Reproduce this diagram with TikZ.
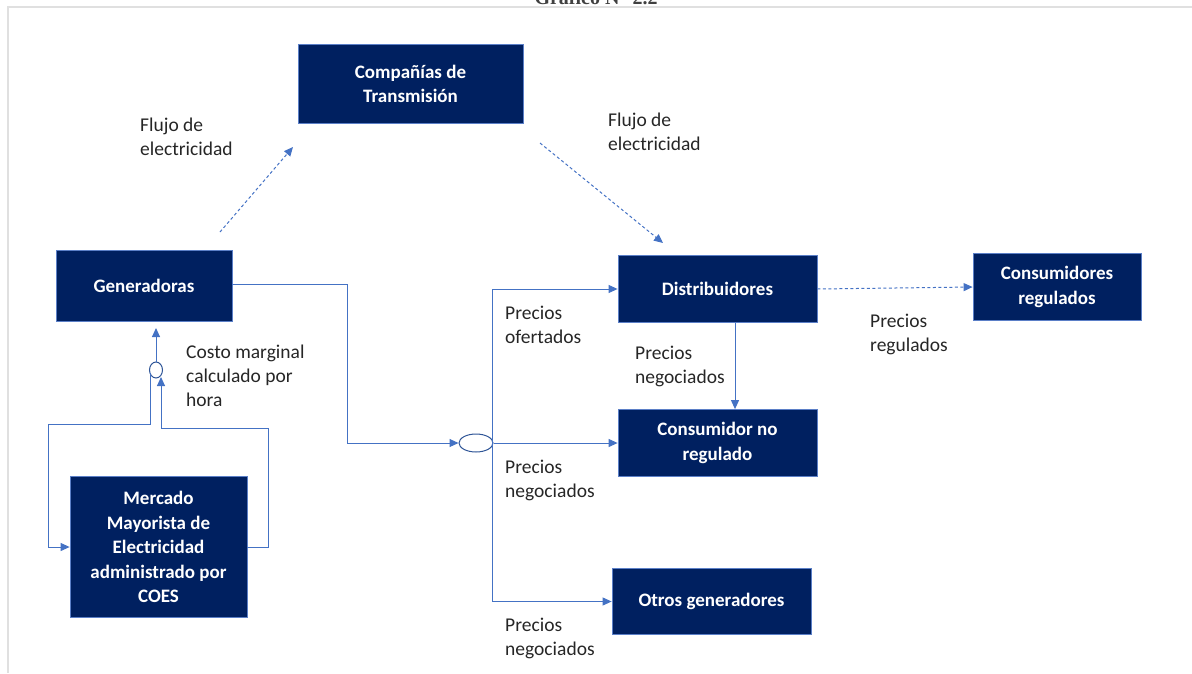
\documentclass[tikz,border=0pt]{standalone}
\usepackage{fontspec}
\setmainfont{Carlito}
\newfontfamily\titlefont{Liberation Serif}
\usetikzlibrary{arrows.meta,shapes.geometric,calc}
\definecolor{navy}{HTML}{002060}
\definecolor{lineblue}{HTML}{4472C4}
\definecolor{boxedge}{HTML}{5B7FC7}
\definecolor{ringblue}{HTML}{2F5597}
\begin{document}
\begin{tikzpicture}[x=1pt,y=-1pt,
  box/.style={draw=boxedge, line width=0.8pt, fill=navy, text=white, font=\fontsize{19}{24.5}\selectfont\bfseries, align=center, inner sep=0pt},
  lbl/.style={anchor=west, inner sep=0pt, align=left, font=\fontsize{19.5}{24}\selectfont, text=black!85},
  conn/.style={draw=lineblue, line width=1pt, -{Triangle[length=9pt,width=8pt]}},
  dsh/.style={conn, dash pattern=on 3pt off 2.5pt},
  ring/.style={draw=ringblue, line width=1pt, ellipse, inner sep=0pt, fill=white}
]
\useasboundingbox (0,0) rectangle (1192,673);
\draw[black!12, line width=2pt] (8,673) -- (8,7) -- (1192,7);
\node[font=\titlefont\fontsize{20}{24}\selectfont\bfseries, anchor=base, text=black!75] (title) at (596,4.5) {Gráfico N° 2.2};

% boxes
\node[box, minimum width=225pt, minimum height=79pt] (trans) at (410.5,84) {Compañías de\\Transmisión};
\node[box, minimum width=176pt, minimum height=71pt] (gen) at (144,286) {Generadoras};
\node[box, minimum width=177pt, minimum height=141pt] (merc) at (158.5,547) {Mercado\\Mayorista de\\Electricidad\\administrado por\\COES};
\node[box, minimum width=199pt, minimum height=67pt] (dist) at (717.5,289) {Distribuidores};
\node[box, minimum width=168pt, minimum height=67pt] (creg) at (1057,287) {Consumidores\\regulados};
\node[box, minimum width=199pt, minimum height=67pt] (cnr) at (717.5,443) {Consumidor no\\regulado};
\node[box, minimum width=199pt, minimum height=66pt] (otros) at (711.5,601.5) {Otros generadores};

% junctions
\node[ring, minimum width=34pt, minimum height=18pt] (ell) at (476,443) {};
\node[ring, minimum width=13pt, minimum height=16pt] (circ) at (156,370) {};

% labels
\node[lbl] (l1) at (140,137) {Flujo de\\electricidad};
\node[lbl] (l2) at (608,132) {Flujo de\\electricidad};
\node[lbl] (l3) at (870,334) {Precios\\regulados};
\node[lbl] (l4) at (505,325) {Precios\\ofertados};
\node[lbl] (l5) at (635,366) {Precios\\negociados};
\node[lbl] (l6) at (186,376) {Costo marginal\\calculado por\\hora};
\node[lbl] (l7) at (505,480) {Precios\\negociados};
\node[lbl] (l8) at (505,638) {Precios\\negociados};

% coordinates
\coordinate (d1a) at (220,232);
\coordinate (d1b) at (293,147);
\coordinate (d2a) at (540,143);
\coordinate (d2b) at (663,243);
\coordinate (j1) at (347,284);
\coordinate (gtip) at (156,328);
\coordinate (cl) at (150,373);
\coordinate (cl2) at (150,424);
\coordinate (cl3) at (48,424);
\coordinate (cr1) at (268,428);
\coordinate (cr2) at (161,428);
\coordinate (cr3) at (161,377);

% connectors
\draw[dsh] (d1a) -- (d1b);
\draw[dsh] (d2a) -- (d2b);
\draw[dsh] (dist.east) -- (creg.west);
\draw[conn] (gen.east |- j1) -- (j1) |- (ell.west);
\draw[conn] ($(ell.east)+(-1,0)$) |- (dist.west);
\draw[conn] (ell.east) -- (cnr.west);
\draw[conn] ($(ell.east)+(-1,0)$) |- (otros.west);
\draw[conn] ($(dist.south)+(17.5,0)$) -- ($(cnr.north)+(17.5,0)$);
\draw[conn] (circ.north) -- (gtip);
\draw[conn] (cl) -- (cl2) -- (cl3) |- (merc.west);
\draw[conn] (merc.east) -| (cr1) -- (cr2) -- (cr3);
\end{tikzpicture}
\end{document}
